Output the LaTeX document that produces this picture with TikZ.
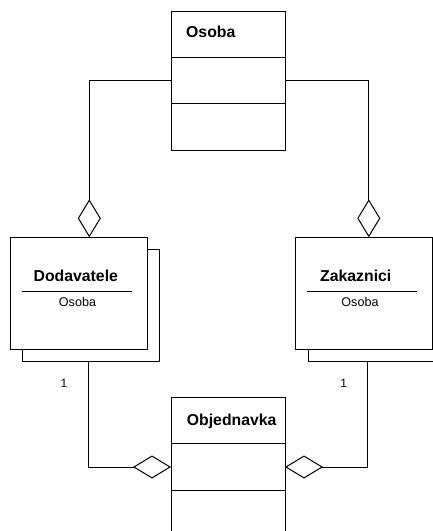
\documentclass[tikz,border=0pt]{standalone}
\usepackage{fontspec}
\setmainfont{Liberation Sans}
\usetikzlibrary{arrows.meta}
\begin{document}
\begin{tikzpicture}[x=1pt,y=-1pt,
  box/.style={draw=black, fill=white, line width=1pt, rectangle, inner sep=0pt, outer sep=0pt, anchor=north west},
  classbox/.style={box, minimum width=114pt},
  entity/.style={box, minimum width=137pt, minimum height=112pt},
  title/.style={font=\fontsize{15.8}{18}\selectfont\bfseries, inner sep=0pt},
  attr/.style={font=\fontsize{12.6}{15}\selectfont, anchor=base, inner sep=0pt},
  mult/.style={font=\fontsize{12}{14}\selectfont, anchor=base, inner sep=0pt},
  link/.style={draw=black, line width=1pt},
  agg/.style={link, -{Diamond[open, length=38pt, width=23pt, line width=1pt]}},
]
\useasboundingbox (0,0) rectangle (433,531);
\clip (0,0) rectangle (433,531);

% class Osoba with two empty compartments
\node[classbox, minimum height=138.3pt] (osoba) at (171.7,11.7) {};
\draw[link] ([yshift=-45.6pt]osoba.north west) -- ([yshift=-45.6pt]osoba.north east);
\draw[link] ([yshift=-92pt]osoba.north west) -- ([yshift=-92pt]osoba.north east);
\node[title, anchor=base west] (osobaT) at (186,37.3) {Osoba};

% Dodavatele (multi-object)
\node[entity] (dodS) at (22.5,249.8) {};
\node[entity] (dod) at (10,237.3) {};
\node[title, anchor=base] (dodT) at (75.8,281.7) {Dodavatele};
\draw[link] (21.7,291.5) -- (131.7,291.5);
\node[attr] (dodA) at (77.5,306.7) {Osoba};

% Zakaznici (multi-object)
\node[entity] (zakS) at (308,249.8) {};
\node[entity] (zak) at (295.5,237.3) {};
\node[title, anchor=base] (zakT) at (355.8,281.7) {Zakaznici};
\draw[link] (306.7,291.5) -- (416.7,291.5);
\node[attr] (zakA) at (360,306.7) {Osoba};

% class Objednavka
\node[classbox, minimum height=150pt] (obj) at (171,397.7) {};
\draw[link] ([yshift=-45.6pt]obj.north west) -- ([yshift=-45.6pt]obj.north east);
\draw[link] ([yshift=-92.3pt]obj.north west) -- ([yshift=-92.3pt]obj.north east);
\node[title, anchor=base west] (objT) at (186.7,425) {Objednavka};
\coordinate (objL) at ([yshift=-69.3pt]obj.north west);
\coordinate (objR) at ([yshift=-69.3pt]obj.north east);

% aggregations
\draw[agg] (osoba.west) -| ([xshift=10.8pt]dod.north);
\draw[agg] (osoba.east) -| ([xshift=4.8pt]zak.north);
\draw[agg] ([xshift=-3pt]dodS.south) |- (objL);
\draw[agg] ([xshift=-9pt]zakS.south) |- (objR);

% multiplicities
\node[mult] (m1) at (64,387.8) {1};
\node[mult] (m2) at (343.8,387.8) {1};
\end{tikzpicture}
\end{document}
